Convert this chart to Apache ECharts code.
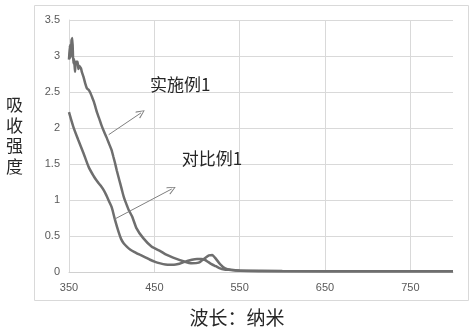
<!DOCTYPE html>
<html>
<head>
<meta charset="utf-8">
<script src="https://cdn.jsdelivr.net/npm/echarts@6/dist/echarts.min.js"></script>
<style>html,body{margin:0;padding:0;background:#fff;}#c{width:474px;height:332px;}</style>
</head>
<body>
<div id="c"></div>
<script>
// 实施例1 (sample 1)
const wl1 = [350,351,352,353,354,355,356,357,358,360,361,362,364,365,367,369,371,373,375,377,379,381,383,386,388,391,394,397,400,402,404,406,408,410,412,414,416,418,420,424,429,437,447,457,464,472,484,494,502,509,514,518,521,527,533,540,550,600,700,800];
const abs1 = [2.95,3.15,2.98,3.22,3.25,2.9,2.96,2.78,2.92,2.92,2.82,2.86,2.83,2.78,2.71,2.62,2.55,2.53,2.49,2.43,2.37,2.29,2.21,2.11,2.04,1.95,1.87,1.78,1.69,1.6,1.51,1.41,1.32,1.23,1.14,1.05,0.98,0.92,0.86,0.77,0.61,0.47,0.35,0.29,0.24,0.2,0.15,0.12,0.13,0.19,0.23,0.235,0.2,0.11,0.05,0.03,0.02,0.015,0.01,0.01];
// 对比例1 (comparative example 1)
const wl2 = [350,355,361,367,373,379,383,387,391,394,397,400,404,408,411,414,418,422,428,433,440,445,451,457,463,468,473,478,483,488,494,500,505,509,513,517,522,527,532,537,545,560,600,700,800];
const abs2 = [2.22,2.02,1.83,1.65,1.46,1.33,1.26,1.2,1.13,1.06,0.98,0.9,0.72,0.56,0.46,0.4,0.35,0.31,0.27,0.24,0.2,0.17,0.14,0.12,0.105,0.1,0.1,0.11,0.13,0.15,0.17,0.18,0.18,0.17,0.14,0.11,0.08,0.05,0.035,0.03,0.02,0.015,0.01,0.01,0.01];
const seriesNames = ['实施例1','对比例1'];
const xTicks = [350,800,100];
const yTicks = [0,3.5,0.5];
// annotation anchors (data units)
const labelPos = [[445,2.6],[482,1.57]];
const arrows = [[[396.5,1.907],[434.4,2.21]],[[403.1,0.732],[470.4,1.153]]];

const chart = echarts.init(document.getElementById('c'));
const lineColor = '#6e6e6e';
const arrowPath = 'path://M5,0 L10,9 L9,10 L5,2 L1,10 L0,9 Z';
function mk(i, wl, ab){
  return {
    name: seriesNames[i], type:'line', showSymbol:false, symbol:'none',
    data: wl.map((x,k)=>[x,ab[k]]),
    smooth: i===1 ? 0.3 : 0.15,
    lineStyle:{color:lineColor,width:2.5},
    itemStyle:{color:lineColor},
    markLine:{silent:true, symbol:['none',arrowPath], symbolSize:[8,9],
      lineStyle:{color:'#7f7f7f',width:1,type:'solid'}, label:{show:false},
      data:[[{coord:arrows[i][0]},{coord:arrows[i][1]}]]},
    markPoint:{silent:true, symbol:'circle', symbolSize:0,
      data:[{coord:labelPos[i], value:seriesNames[i]}],
      label:{show:true, position:'right', distance:0, formatter:seriesNames[i],
        fontFamily:'Noto Sans CJK SC', fontSize:17, color:'#262626'}}
  };
}
chart.setOption({
  animation:false,
  grid:{left:69,right:21,top:20,bottom:60},
  graphic:[{type:'rect',shape:{x:34.5,y:5.5,width:434,height:295},style:{fill:'none',stroke:'#d9d9d9',lineWidth:1},silent:true}],
  xAxis:{type:'value',min:xTicks[0],max:xTicks[1],interval:xTicks[2],
    name:'波长：纳米',nameLocation:'middle',nameGap:36,
    nameTextStyle:{fontFamily:'Noto Sans CJK SC',fontSize:19,color:'#262626',padding:[0,48,0,0]},
    axisLine:{show:true,lineStyle:{color:'#d0d0d0',width:1}},axisTick:{show:false},
    axisLabel:{color:'#595959',fontSize:11,fontFamily:'Liberation Sans',margin:10,showMaxLabel:false},
    splitLine:{show:true,showMinLine:false,showMaxLine:false,lineStyle:{color:'#d9d9d9',width:1}}},
  yAxis:{type:'value',min:yTicks[0],max:yTicks[1],interval:yTicks[2],
    name:'吸\n收\n强\n度\n',nameLocation:'middle',nameRotate:0,nameGap:46,
    nameTextStyle:{fontFamily:'Noto Sans CJK SC',fontSize:17,lineHeight:20.5,color:'#262626'},
    axisLine:{show:true,lineStyle:{color:'#d9d9d9',width:1}},axisTick:{show:false},
    axisLabel:{color:'#595959',fontSize:11,fontFamily:'Liberation Sans',margin:9},
    splitLine:{show:true,lineStyle:{color:'#d9d9d9',width:1}}},
  series:[mk(0,wl1,abs1),mk(1,wl2,abs2)]
});
</script>
</body>
</html>
